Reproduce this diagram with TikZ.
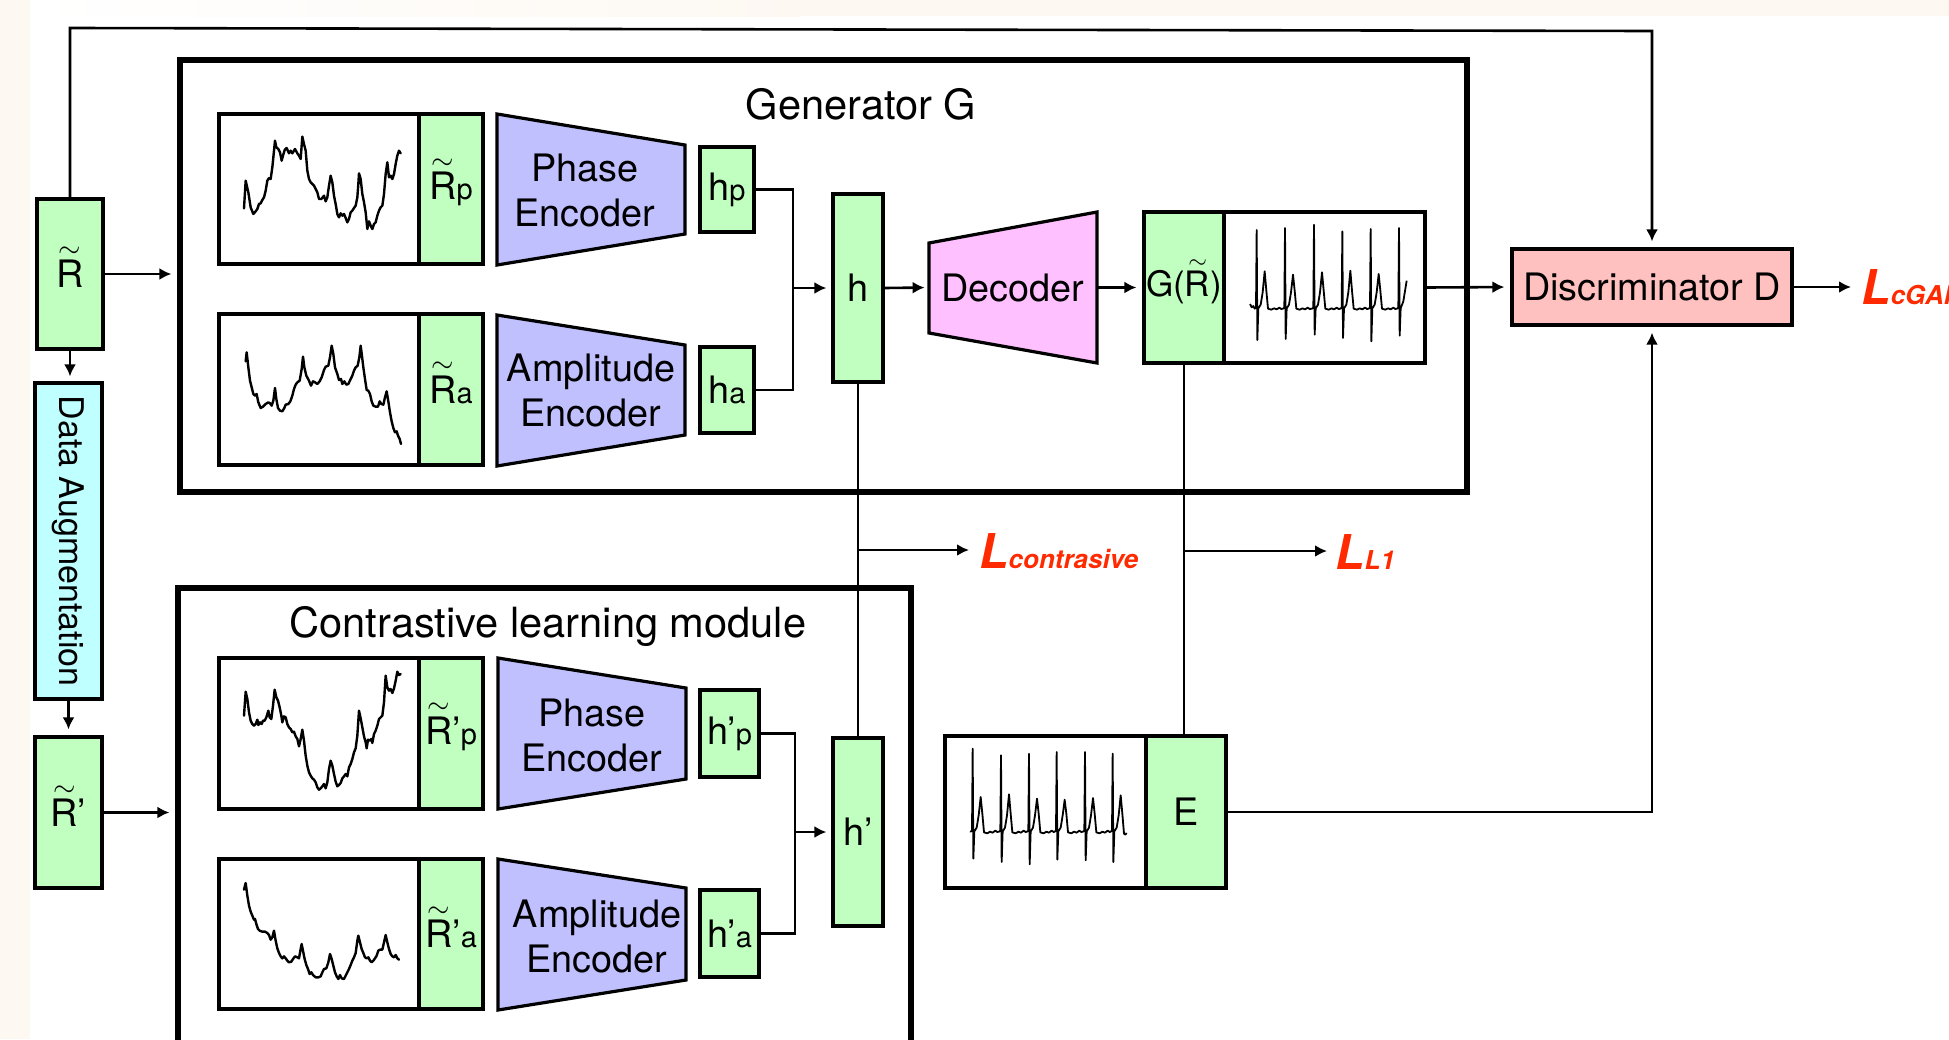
\documentclass[tikz,border=0pt]{standalone}
\usepackage{fontspec}
\setmainfont{TeX Gyre Heros}
\usetikzlibrary{arrows.meta,fit}
\definecolor{gfill}{HTML}{C0FFC0}
\definecolor{efill}{HTML}{C0C0FF}
\definecolor{dfill}{HTML}{FFC0FF}
\definecolor{discfill}{HTML}{FFC0C0}
\definecolor{afill}{HTML}{C0FFFF}
\definecolor{lred}{HTML}{FF2A00}
\definecolor{cream}{HTML}{FDF8F2}
\newcommand{\tR}{\mbox{\ooalign{R\cr\hidewidth\smash{\raisebox{0.80em}{$\scriptstyle\sim$}}\hidewidth\cr}}}
\newcommand{\sbs}[1]{{\fontsize{14.5}{14.5}\selectfont #1}}
\newcommand{\Lbl}[1]{{\fontsize{24}{24}\selectfont\bfseries\itshape L}{\fontsize{13}{13}\selectfont\bfseries\itshape #1}}
\begin{document}
\begin{tikzpicture}[x=0.5pt,y=-0.5pt,
  gbox/.style={draw, line width=1.6pt, fill=gfill, inner sep=0pt},
  sigbox/.style={draw, line width=1.6pt, fill=white, inner sep=0pt},
  bigframe/.style={draw, line width=2.6pt, inner sep=0pt},
  trapz/.style={draw, line width=1.6pt, line join=miter},
  txt/.style={inner sep=0pt, align=center, font=\fontsize{18.9}{22.5}\selectfont},
  conn/.style={line width=1.3pt, line join=miter},
  arr/.style={conn, -{Latex[length=6pt,width=6pt]}},
  wavel/.style={line width=1.2pt, line join=round, line cap=round},
  ecgw/.style={line width=0.9pt, line join=round},
  loss/.style={text=lred, inner sep=0pt, anchor=base west}
]
\useasboundingbox (0,0) rectangle (1949,1039);
\fill[cream] (0,0) rectangle (30,1039);
\shade[left color=white, right color=cream] (30,0) rectangle (800,16);
\fill[cream] (800,0) rectangle (1949,16);

% frames
\node[bigframe, fit={(180,60)(1467,492)}] (gen) {};
\node[inner sep=0pt, font=\fontsize{20.8}{24}\selectfont] (gtitle) at (861,104) {Generator G};
\node[bigframe, fit={(178,588)(911,1075)}] (cl) {};
\node[inner sep=0pt, font=\fontsize{20.8}{24}\selectfont] (ctitle) at (548,626) {Contrastive learning module};

% left column
\node[gbox, fit={(37,199)(103,349)}] (Rt) {};
\node[txt] (Rt-t) at (Rt.center) {\tR};
\node[draw, line width=1.6pt, fill=afill, inner sep=0pt, fit={(35,383)(102,699)}] (da) {};
\node[rotate=-90, inner sep=0pt, font=\fontsize{17}{20}\selectfont] (datxt) at (da.center) {Data Augmentation};
\node[gbox, fit={(35,737)(102,888)}] (Rq) {};
\node[txt] (Rq-t) at (Rq.center) {\tR’};

% generator inner
\node[sigbox, fit={(219,114)(419,264)}] (s1) {};
\node[gbox, fit={(419,114)(483,264)}] (rp) {};
\node[txt] (rp-t) at (rp.center) {\tR\sbs{p}};
\node[sigbox, fit={(219,314)(419,465)}] (s2) {};
\node[gbox, fit={(419,314)(483,465)}] (ra) {};
\node[txt] (ra-t) at (ra.center) {\tR\sbs{a}};
\draw[trapz, fill=efill] (497,114) -- (685,145) -- (685,234) -- (497,265) -- cycle;
\node[txt] (pe1) at (585,190) {Phase\\Encoder};
\draw[trapz, fill=efill] (497,315) -- (685,345) -- (685,435) -- (497,466) -- cycle;
\node[txt] (ae1) at (591,390) {Amplitude\\Encoder};
\node[gbox, fit={(700,147)(754,232)}] (hp) {};
\node[txt] (hp-t) at (hp.center) {h\sbs{p}};
\node[gbox, fit={(700,347)(754,433)}] (ha) {};
\node[txt] (ha-t) at (ha.center) {h\sbs{a}};
\node[gbox, fit={(833,194)(883,382)}] (h) {};
\node[txt] (h-t) at (h.center) {h};
\draw[trapz, fill=dfill] (929,243) -- (1097,212) -- (1097,363) -- (929,333) -- cycle;
\node[inner sep=0pt, fit={(929,212)(1097,363)}] (dec) {};
\node[txt] (dec-t) at (1013,288) {Decoder};
\node[gbox, fit={(1144,212)(1224,363)}] (gr) {};
\node[txt, font=\fontsize{17.5}{20}\selectfont] (gr-t) at (gr.center) {G(\tR)};
\node[sigbox, fit={(1224,212)(1425,363)}] (s5) {};
\node[draw, line width=1.6pt, fill=discfill, inner sep=0pt, fit={(1512,249)(1792,325)}] (Disc) {};
\node[txt] (Disc-t) at (Disc.center) {Discriminator D};

% contrastive inner
\node[sigbox, fit={(219,658)(419,809)}] (s3) {};
\node[gbox, fit={(419,658)(483,809)}] (rqp) {};
\node[txt] (rqp-t) at (rqp.center) {\tR’\sbs{p}};
\node[sigbox, fit={(219,859)(419,1009)}] (s4) {};
\node[gbox, fit={(419,859)(483,1009)}] (rqa) {};
\node[txt] (rqa-t) at (rqa.center) {\tR’\sbs{a}};
\draw[trapz, fill=efill] (498,658) -- (686,688) -- (686,779) -- (498,809) -- cycle;
\node[txt] (pe2) at (592,735) {Phase\\Encoder};
\draw[trapz, fill=efill] (498,859) -- (686,888) -- (686,980) -- (498,1010) -- cycle;
\node[txt] (ae2) at (597,936) {Amplitude\\Encoder};
\node[gbox, fit={(700,690)(759,777)}] (hqp) {};
\node[txt] (hqp-t) at (hqp.center) {h’\sbs{p}};
\node[gbox, fit={(700,890)(759,977)}] (hqa) {};
\node[txt] (hqa-t) at (hqa.center) {h’\sbs{a}};
\node[gbox, fit={(833,738)(883,926)}] (hq) {};
\node[txt] (hq-t) at (hq.center) {h’};

% E
\node[sigbox, fit={(945,736)(1146,888)}] (s6) {};
\node[gbox, fit={(1146,736)(1226,888)}] (E) {};
\node[txt] (E-t) at (E.center) {E};

% waveforms
\begin{scope}[shift={(219,114)}, scale=1/3]
\draw[wavel] (75,283) -- (80,200) -- (88,235) -- (95,280) -- (103,300) -- (110,292) -- (115,285) -- (120,270) -- (125,268) -- (130,258) -- (135,250) -- (140,230) -- (145,200) -- (150,192) -- (155,195) -- (160,160) -- (165,110) -- (168,80) -- (172,100) -- (178,105) -- (183,115) -- (188,140) -- (192,125) -- (197,108) -- (203,102) -- (210,118) -- (215,110) -- (220,118) -- (228,105) -- (235,118) -- (240,125) -- (245,135) -- (250,68) -- (255,90) -- (260,110) -- (265,170) -- (270,195) -- (275,205) -- (280,210) -- (285,215) -- (290,225) -- (295,235) -- (300,255) -- (307,255) -- (315,245) -- (320,262) -- (325,250) -- (330,215) -- (335,185) -- (340,205) -- (345,245) -- (350,270) -- (355,300) -- (360,310) -- (365,298) -- (370,305) -- (375,300) -- (380,312) -- (385,325) -- (390,315) -- (395,295) -- (400,290) -- (405,282) -- (410,275) -- (415,250) -- (418,210) -- (420,178) -- (425,195) -- (430,240) -- (435,265) -- (440,295) -- (445,345) -- (450,322) -- (455,335) -- (460,345) -- (465,330) -- (470,325) -- (475,305) -- (480,290) -- (485,280) -- (490,275) -- (495,240) -- (500,180) -- (505,145) -- (510,190) -- (515,185) -- (520,195) -- (525,180) -- (530,150) -- (535,125) -- (540,110) -- (545,118);
\end{scope}
\begin{scope}[shift={(219,314)}, scale=1/3]
\draw[wavel] (80,142) -- (83,115) -- (88,160) -- (93,200) -- (98,220) -- (103,240) -- (108,245) -- (113,240) -- (118,265) -- (125,282) -- (132,278) -- (140,270) -- (148,265) -- (153,268) -- (158,275) -- (163,260) -- (168,222) -- (172,255) -- (177,282) -- (183,290) -- (190,292) -- (196,282) -- (200,272) -- (208,270) -- (214,262) -- (220,245) -- (225,225) -- (230,212) -- (235,205) -- (242,200) -- (248,165) -- (252,128) -- (256,160) -- (262,185) -- (270,200) -- (276,215) -- (282,202) -- (288,205) -- (295,210) -- (302,202) -- (308,190) -- (315,168) -- (320,158) -- (328,155) -- (333,130) -- (338,95) -- (343,120) -- (348,160) -- (355,180) -- (360,198) -- (366,195) -- (370,210) -- (376,202) -- (382,212) -- (388,210) -- (395,195) -- (400,185) -- (405,170) -- (410,160) -- (416,155) -- (421,130) -- (425,95) -- (428,118) -- (433,160) -- (438,195) -- (443,228) -- (448,230) -- (453,240) -- (458,262) -- (463,275) -- (470,278) -- (477,278) -- (482,262) -- (487,270) -- (493,272) -- (498,250) -- (503,232) -- (508,262) -- (513,295) -- (518,322) -- (523,342) -- (528,355) -- (533,352) -- (537,365) -- (542,375) -- (546,390);
\end{scope}
\begin{scope}[shift={(219,659)}, scale=1/3]
\draw[wavel] (75,170) -- (80,98) -- (85,120) -- (90,160) -- (95,185) -- (100,195) -- (105,200) -- (110,195) -- (115,182) -- (118,198) -- (123,190) -- (128,195) -- (132,185) -- (137,185) -- (142,175) -- (148,155) -- (152,175) -- (157,180) -- (162,140) -- (167,92) -- (172,115) -- (177,125) -- (182,145) -- (187,170) -- (190,190) -- (195,172) -- (200,175) -- (205,195) -- (210,205) -- (215,210) -- (220,220) -- (225,218) -- (230,232) -- (235,240) -- (240,262) -- (245,240) -- (250,212) -- (255,245) -- (260,290) -- (265,320) -- (270,340) -- (275,350) -- (280,358) -- (285,362) -- (290,370) -- (295,385) -- (300,392) -- (305,388) -- (310,382) -- (315,375) -- (320,388) -- (325,370) -- (330,330) -- (335,305) -- (340,320) -- (345,345) -- (350,368) -- (355,382) -- (360,378) -- (365,372) -- (370,358) -- (375,352) -- (380,345) -- (385,352) -- (390,325) -- (395,315) -- (400,300) -- (405,280) -- (410,268) -- (415,230) -- (420,155) -- (425,178) -- (430,205) -- (435,232) -- (440,250) -- (443,268) -- (447,242) -- (452,245) -- (457,240) -- (460,252) -- (465,225) -- (470,215) -- (475,200) -- (480,180) -- (485,175) -- (490,170) -- (495,130) -- (500,50) -- (505,85) -- (510,95) -- (515,90) -- (520,102) -- (525,88) -- (530,65) -- (535,38) -- (540,48) -- (545,45);
\end{scope}
\begin{scope}[shift={(219,859)}, scale=1/3]
\draw[wavel] (75,92) -- (80,72) -- (85,110) -- (90,140) -- (95,158) -- (100,170) -- (105,182) -- (108,180) -- (112,195) -- (117,210) -- (122,215) -- (130,218) -- (138,218) -- (145,222) -- (150,228) -- (155,242) -- (160,235) -- (165,215) -- (170,245) -- (175,268) -- (180,282) -- (185,292) -- (190,298) -- (195,292) -- (200,298) -- (205,305) -- (210,310) -- (217,308) -- (222,300) -- (228,292) -- (235,295) -- (240,298) -- (245,270) -- (248,255) -- (252,275) -- (257,300) -- (262,318) -- (267,330) -- (272,345) -- (277,340) -- (282,348) -- (290,355) -- (298,355) -- (305,352) -- (310,340) -- (315,330) -- (322,328) -- (328,310) -- (333,285) -- (338,300) -- (343,320) -- (348,340) -- (353,352) -- (358,360) -- (363,348) -- (368,358) -- (375,360) -- (380,350) -- (385,340) -- (390,330) -- (395,318) -- (400,305) -- (405,295) -- (410,282) -- (415,245) -- (418,230) -- (423,250) -- (428,270) -- (433,282) -- (438,295) -- (443,298) -- (448,295) -- (453,305) -- (458,310) -- (463,305) -- (468,298) -- (473,290) -- (478,275) -- (483,272) -- (490,272) -- (495,250) -- (500,228) -- (505,250) -- (510,270) -- (515,285) -- (520,292) -- (525,295) -- (530,288) -- (535,298) -- (540,302);
\end{scope}
\begin{scope}[shift={(1225,214)}, scale=1/3]
\draw[ecgw] (75,270) -- (80,280) -- (85,276)
  \foreach \r/\t/\b/\p in {95/48/378/172,180/42/375/182,267/32/362/175,352/52/372/170,437/45/382/180} {
   -- ({\r-6},284) -- ({\r-2},281) -- (\r,\t) -- ({\r+2},\b) -- ({\r+5},283) -- ({\r+12},272) -- ({\r+18},235) -- ({\r+24},\p) -- ({\r+29},230) -- ({\r+34},284) -- ({\r+44},287) -- ({\r+52},283) -- ({\r+60},286) -- ({\r+68},281) -- ({\r+74},285)
  }
  -- (516,284) -- (520,281) -- (522,42) -- (524,365) -- (527,283) -- (535,262) -- (545,200);
\end{scope}
\begin{scope}[shift={(945,737)}, scale=1/3]
\draw[ecgw] (76,283)
  \foreach \r/\t/\b/\p in {83/35/365/180,168/55/375/172,252/50/382/185,335/45/368/188,420/45/370/183} {
   -- ({\r-6},284) -- ({\r-2},281) -- (\r,\t) -- ({\r+2},\b) -- ({\r+5},283) -- ({\r+12},272) -- ({\r+18},235) -- ({\r+24},\p) -- ({\r+29},230) -- ({\r+34},286) -- ({\r+44},289) -- ({\r+52},284) -- ({\r+60},287) -- ({\r+68},281) -- ({\r+74},285)
  }
  -- (497,284) -- (501,281) -- (503,50) -- (505,375) -- (508,283) -- (515,272) -- (521,235) -- (527,175) -- (532,230) -- (537,290) -- (541,293) -- (545,288);
\end{scope}

% loss labels
\node[loss] (lc) at (979,568) {\Lbl{contrasive}};
\node[loss] (l1) at (1335,569) {\Lbl{L1}};
\node[loss] (lg) at (1861,304) {\Lbl{cGAN}};

% connectors
\draw[arr, shorten >=3pt] (Rt.east) -- (Rt.east -| gen.west);
\draw[arr, shorten >=2.5pt] (Rt.south) -- (Rt.south |- da.north);
\draw[arr, shorten >=3pt] (da.south) -- (da.south |- Rq.north);
\draw[arr, shorten >=3pt] (Rq.east) -- (Rq.east -| cl.west);
\coordinate (tl) at (70,28);
\coordinate (tr) at (1652,31);
\draw[arr, shorten >=3pt] (Rt.north) -- (tl) -- (tr) -- (Disc.north);

\coordinate (j1) at (793,288);
\draw[conn] (hp.east) -| (j1) |- (ha.east);
\draw[arr, shorten >=2.5pt] (j1) -- (h.west);
\draw[arr, shorten >=2pt] (h.east) -- (dec.west);
\draw[arr, shorten >=3pt] (dec.east) -- (gr.west);
\draw[arr, shorten >=3pt] (s5.east) -- (Disc.west);
\draw[arr, shorten >=5pt] (Disc.east) -- (Disc.east -| lg.west);

\coordinate (j2) at (795,832);
\draw[conn] (hqp.east) -| (j2) |- (hqa.east);
\draw[arr, shorten >=2.5pt] (j2) -- (hq.west);

\draw[conn] (h.south) -- (hq.north);
\coordinate (cb) at (858,550);
\draw[arr, shorten >=5pt] (cb) -- (cb -| lc.west);
\draw[conn] (gr.south) -- (gr.south |- E.north);
\coordinate (gb) at (1184,551);
\draw[arr, shorten >=4pt] (gb) -- (gb -| l1.west);
\draw[arr, shorten >=3pt] (E.east) -| (Disc.south);
\end{tikzpicture}
\end{document}
